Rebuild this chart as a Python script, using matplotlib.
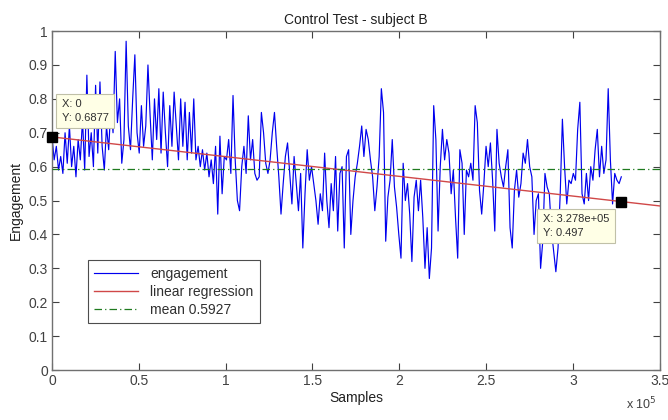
import numpy as np
import matplotlib
matplotlib.use("Agg")
import matplotlib.pyplot as plt
from matplotlib.ticker import FuncFormatter, MultipleLocator

plt.rcParams['font.family'] = ['Liberation Sans', 'DejaVu Sans']

# ---- data ----
engagement = [
    # 0 - 0.25e5
    0.69, 0.62, 0.66, 0.59, 0.63, 0.58, 0.70, 0.61, 0.72, 0.60, 0.66, 0.57, 0.68, 0.62, 0.74, 0.59, 0.87, 0.63, 0.70, 0.60,
    # 0.25 - 0.5
    0.84, 0.64, 0.85, 0.66, 0.59, 0.72, 0.65, 0.78, 0.70, 0.94, 0.73, 0.80, 0.61, 0.68, 0.97, 0.72, 0.65, 0.80, 0.93, 0.70,
    # 0.5 - 0.75
    0.64, 0.78, 0.66, 0.72, 0.90, 0.75, 0.62, 0.80, 0.68, 0.83, 0.64, 0.82, 0.70, 0.60, 0.78, 0.66, 0.82, 0.72, 0.62, 0.80,
    # 0.75 - 1.0
    0.66, 0.79, 0.62, 0.76, 0.64, 0.80, 0.62, 0.66, 0.60, 0.65, 0.59, 0.64, 0.57, 0.62, 0.55, 0.66, 0.46, 0.69, 0.52, 0.63,
    # 1.0 - 1.25
    0.62, 0.68, 0.58, 0.81, 0.62, 0.50, 0.47, 0.60, 0.66, 0.58, 0.75, 0.62, 0.68, 0.58, 0.56, 0.57, 0.76, 0.70, 0.61, 0.58,
    # 1.25 - 1.5
    0.62, 0.70, 0.76, 0.66, 0.57, 0.46, 0.55, 0.63, 0.67, 0.58, 0.49, 0.63, 0.55, 0.47, 0.58, 0.36, 0.52, 0.65, 0.56, 0.60,
    # 1.5 - 1.75
    0.55, 0.50, 0.43, 0.52, 0.47, 0.64, 0.50, 0.42, 0.55, 0.47, 0.63, 0.41, 0.58, 0.60, 0.36, 0.63, 0.65, 0.40, 0.50, 0.57,
    # 1.75 - 2.0
    0.61, 0.66, 0.72, 0.63, 0.71, 0.68, 0.62, 0.57, 0.47, 0.54, 0.63, 0.83, 0.76, 0.38, 0.51, 0.56, 0.68, 0.54, 0.48, 0.40,
    # 2.0 - 2.25
    0.33, 0.61, 0.50, 0.55, 0.46, 0.32, 0.51, 0.56, 0.47, 0.56, 0.45, 0.30, 0.42, 0.27, 0.36, 0.78, 0.68, 0.41, 0.60, 0.71,
    # 2.25 - 2.5
    0.62, 0.68, 0.64, 0.52, 0.59, 0.45, 0.33, 0.65, 0.61, 0.40, 0.59, 0.57, 0.61, 0.56, 0.78, 0.73, 0.53, 0.46, 0.55, 0.66,
    # 2.5 - 2.75
    0.60, 0.67, 0.56, 0.41, 0.71, 0.61, 0.57, 0.54, 0.60, 0.65, 0.42, 0.36, 0.53, 0.59, 0.51, 0.55, 0.64, 0.61, 0.68, 0.60,
    # 2.75 - 3.0
    0.57, 0.40, 0.50, 0.52, 0.30, 0.38, 0.58, 0.54, 0.52, 0.41, 0.35, 0.29, 0.36, 0.52, 0.74, 0.60, 0.49, 0.56, 0.55, 0.58,
    # 3.0 - 3.25
    0.56, 0.71, 0.79, 0.52, 0.49, 0.58, 0.50, 0.60, 0.56, 0.65, 0.71, 0.57, 0.66, 0.58, 0.62, 0.83, 0.62, 0.49, 0.58, 0.56,
    # end
    0.55, 0.57,
]
last_sample = 327800
reg_x = [0, 327800]
reg_y = [0.6877, 0.497]
mean_value = 0.5927
x_max = 350000

samples = np.linspace(0, last_sample, len(engagement))
slope = (reg_y[1] - reg_y[0]) / (reg_x[1] - reg_x[0])
reg_line_x = np.array([0, x_max])
reg_line_y = reg_y[0] + slope * reg_line_x

fig = plt.figure(figsize=(6.68, 4.2), dpi=100)
ax = fig.add_axes([0.0778, 0.119, 0.910, 0.807])

ax.plot(samples, engagement, color='#0000ee', lw=0.85, label='engagement', zorder=2)
ax.plot(reg_line_x, reg_line_y, color='#d04848', lw=1.0, label='linear regression', zorder=3)
ax.plot([0, x_max], [mean_value, mean_value], color='#1f7a1f', lw=0.9,
        ls=(0, (6, 2.5, 1, 2.5)), label='mean 0.5927', zorder=3)

# data tips
ax.plot([reg_x[0], reg_x[1]], [reg_y[0], reg_y[1]], ls='none', marker='s', ms=7,
        color='black', zorder=5, clip_on=False)
bbox = dict(boxstyle='square,pad=0.5', fc='#ffffe6', ec='#c0c0a8', lw=0.8)
ax.text(5500, 0.764, 'X: 0\nY: 0.6877', fontsize=8, va='center', ha='left',
        bbox=bbox, zorder=6, linespacing=1.4, color='#303030')
ax.text(282500, 0.425, 'X: 3.278e+05\nY: 0.497', fontsize=8, va='center', ha='left',
        bbox=bbox, zorder=6, linespacing=1.4, color='#303030')

ax.set_xlim(0, x_max)
ax.set_ylim(0, 1)
ax.xaxis.set_major_locator(MultipleLocator(50000))
ax.yaxis.set_major_locator(MultipleLocator(0.1))
ax.xaxis.set_major_formatter(FuncFormatter(lambda v, p: ('%g' % (v / 1e5))))
ax.yaxis.set_major_formatter(FuncFormatter(lambda v, p: ('%g' % round(v, 2))))
ax.tick_params(direction='in', top=True, right=True, length=5, width=0.8,
               labelsize=10, colors='#404040', pad=3)
for s in ax.spines.values():
    s.set_color('#707070')
    s.set_linewidth(1.0)

ax.set_title('Control Test - subject B', fontsize=10, color='#202020', pad=5)
ax.set_xlabel('Samples', fontsize=10, color='#202020', labelpad=2)
ax.set_ylabel('Engagement', fontsize=10, color='#202020', labelpad=4)
fig.text(0.937, 0.025, r'x 10$^{5}$', fontsize=9, color='#404040', ha='left')

leg = ax.legend(loc='lower left', bbox_to_anchor=(0.059, 0.138), fontsize=10,
                frameon=True, fancybox=False, borderpad=0.45, handlelength=3.15,
                handletextpad=0.9, labelspacing=0.3, borderaxespad=0)
leg.get_frame().set_edgecolor('#202020')
leg.get_frame().set_linewidth(0.8)
for t in leg.get_texts():
    t.set_color('#303030')

fig.savefig('out.png', dpi=100)
